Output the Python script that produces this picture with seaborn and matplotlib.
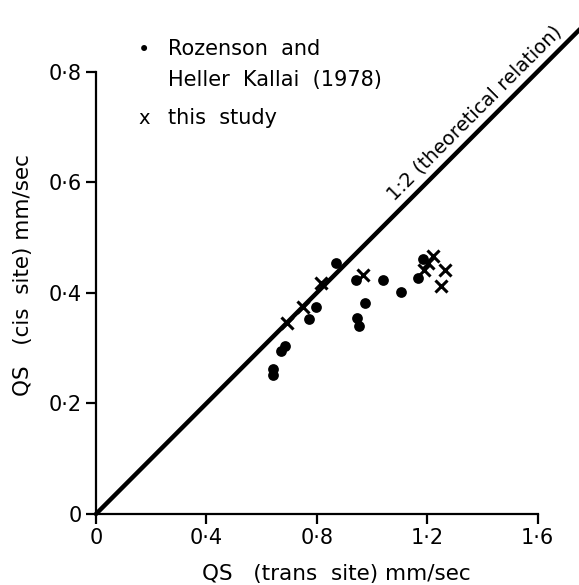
import numpy as np
import pandas as pd
import matplotlib
matplotlib.use("Agg")
import matplotlib.pyplot as plt
import seaborn as sns

# dados
rozensonTrans = [0.641, 0.642, 0.670, 0.685, 0.773, 0.796, 0.870, 0.942, 0.945,
                 0.952, 0.975, 1.039, 1.105, 1.168, 1.184]
rozensonCis = [0.251, 0.263, 0.295, 0.303, 0.353, 0.374, 0.453, 0.423, 0.355,
               0.340, 0.382, 0.423, 0.402, 0.426, 0.462]
estudoTrans = [0.691, 0.749, 0.815, 0.968, 1.188, 1.204, 1.222, 1.249, 1.264]
estudoCis = [0.345, 0.375, 0.417, 0.432, 0.441, 0.454, 0.467, 0.412, 0.442]
linhaTrans = [0.0, 1.78]
linhaCis = [0.0, 0.89]

xTicks = [0, 0.4, 0.8, 1.2, 1.6]
xTickLabels = ["0", "0·4", "0·8", "1·2", "1·6"]
yTicks = [0, 0.2, 0.4, 0.6, 0.8]
yTickLabels = ["0", "0·2", "0·4", "0·6", "0·8"]

sns.set_style("ticks")
plt.rcParams['font.family'] = ['DejaVu Sans']
plt.rcParams['text.color'] = 'black'
plt.rcParams['axes.labelcolor'] = 'black'
plt.rcParams['xtick.color'] = 'black'
plt.rcParams['ytick.color'] = 'black'

W, H = 579, 585
fig = plt.figure(figsize=(W / 100, H / 100), dpi=100)
ax = fig.add_axes([96 / W, 71 / H, 1.78 * 276 / W, 0.9 * 553 / H])

sns.lineplot(x=linhaTrans, y=linhaCis, ax=ax, color="black", linewidth=3.2, clip_on=False)
sns.scatterplot(x=rozensonTrans, y=rozensonCis, ax=ax, color="black", marker="o",
                s=60, edgecolor="black", linewidth=0)
sns.scatterplot(x=estudoTrans, y=estudoCis, ax=ax, color="black", marker="x",
                s=75, linewidth=2.2)

ax.set_xlim(0, 1.78)
ax.set_ylim(0, 0.9)
ax.spines['top'].set_visible(False)
ax.spines['right'].set_visible(False)
ax.spines['left'].set_bounds(0, 0.8)
ax.spines['bottom'].set_bounds(0, 1.6)
ax.spines['left'].set_linewidth(1.6)
ax.spines['bottom'].set_linewidth(1.6)
ax.spines['left'].set_color('black')
ax.spines['bottom'].set_color('black')
ax.set_xticks(xTicks)
ax.set_xticklabels(xTickLabels)
ax.set_yticks(yTicks)
ax.set_yticklabels(yTickLabels)
ax.tick_params(axis='both', labelsize=15, length=7, width=1.6, direction='out', pad=3)

ax.set_xlabel("QS   (trans  site) mm/sec", fontsize=15.5)
ax.set_ylabel("QS   (cis  site) mm/sec", fontsize=15.5)
ax.xaxis.set_label_coords((336 - 96) / (1.78 * 276), -(574 - 514) / (0.9 * 553))
ax.yaxis.set_label_coords(-(96 - 23) / (1.78 * 276), (514 - 275) / (0.9 * 553))
ax.xaxis.label.set_va("center")
ax.yaxis.label.set_va("center")

ax.text(1.37, 0.725, "1:2 (theoretical relation)", rotation=45, fontsize=14,
        ha="center", va="center", rotation_mode="anchor")

# legenda montada com texto, como no original
def figPx(x, y):
    return x / W, 1 - y / H

fig.text(*figPx(144, 50), "•", fontsize=15, ha="center", va="center")
fig.text(*figPx(168, 49), "Rozenson  and", fontsize=15, ha="left", va="center")
fig.text(*figPx(168, 80), "Heller  Kallai  (1978)", fontsize=15, ha="left", va="center")
fig.text(*figPx(144, 119), "x", fontsize=14, ha="center", va="center")
fig.text(*figPx(168, 118), "this  study", fontsize=15, ha="left", va="center")

fig.savefig("out.png", dpi=100)
